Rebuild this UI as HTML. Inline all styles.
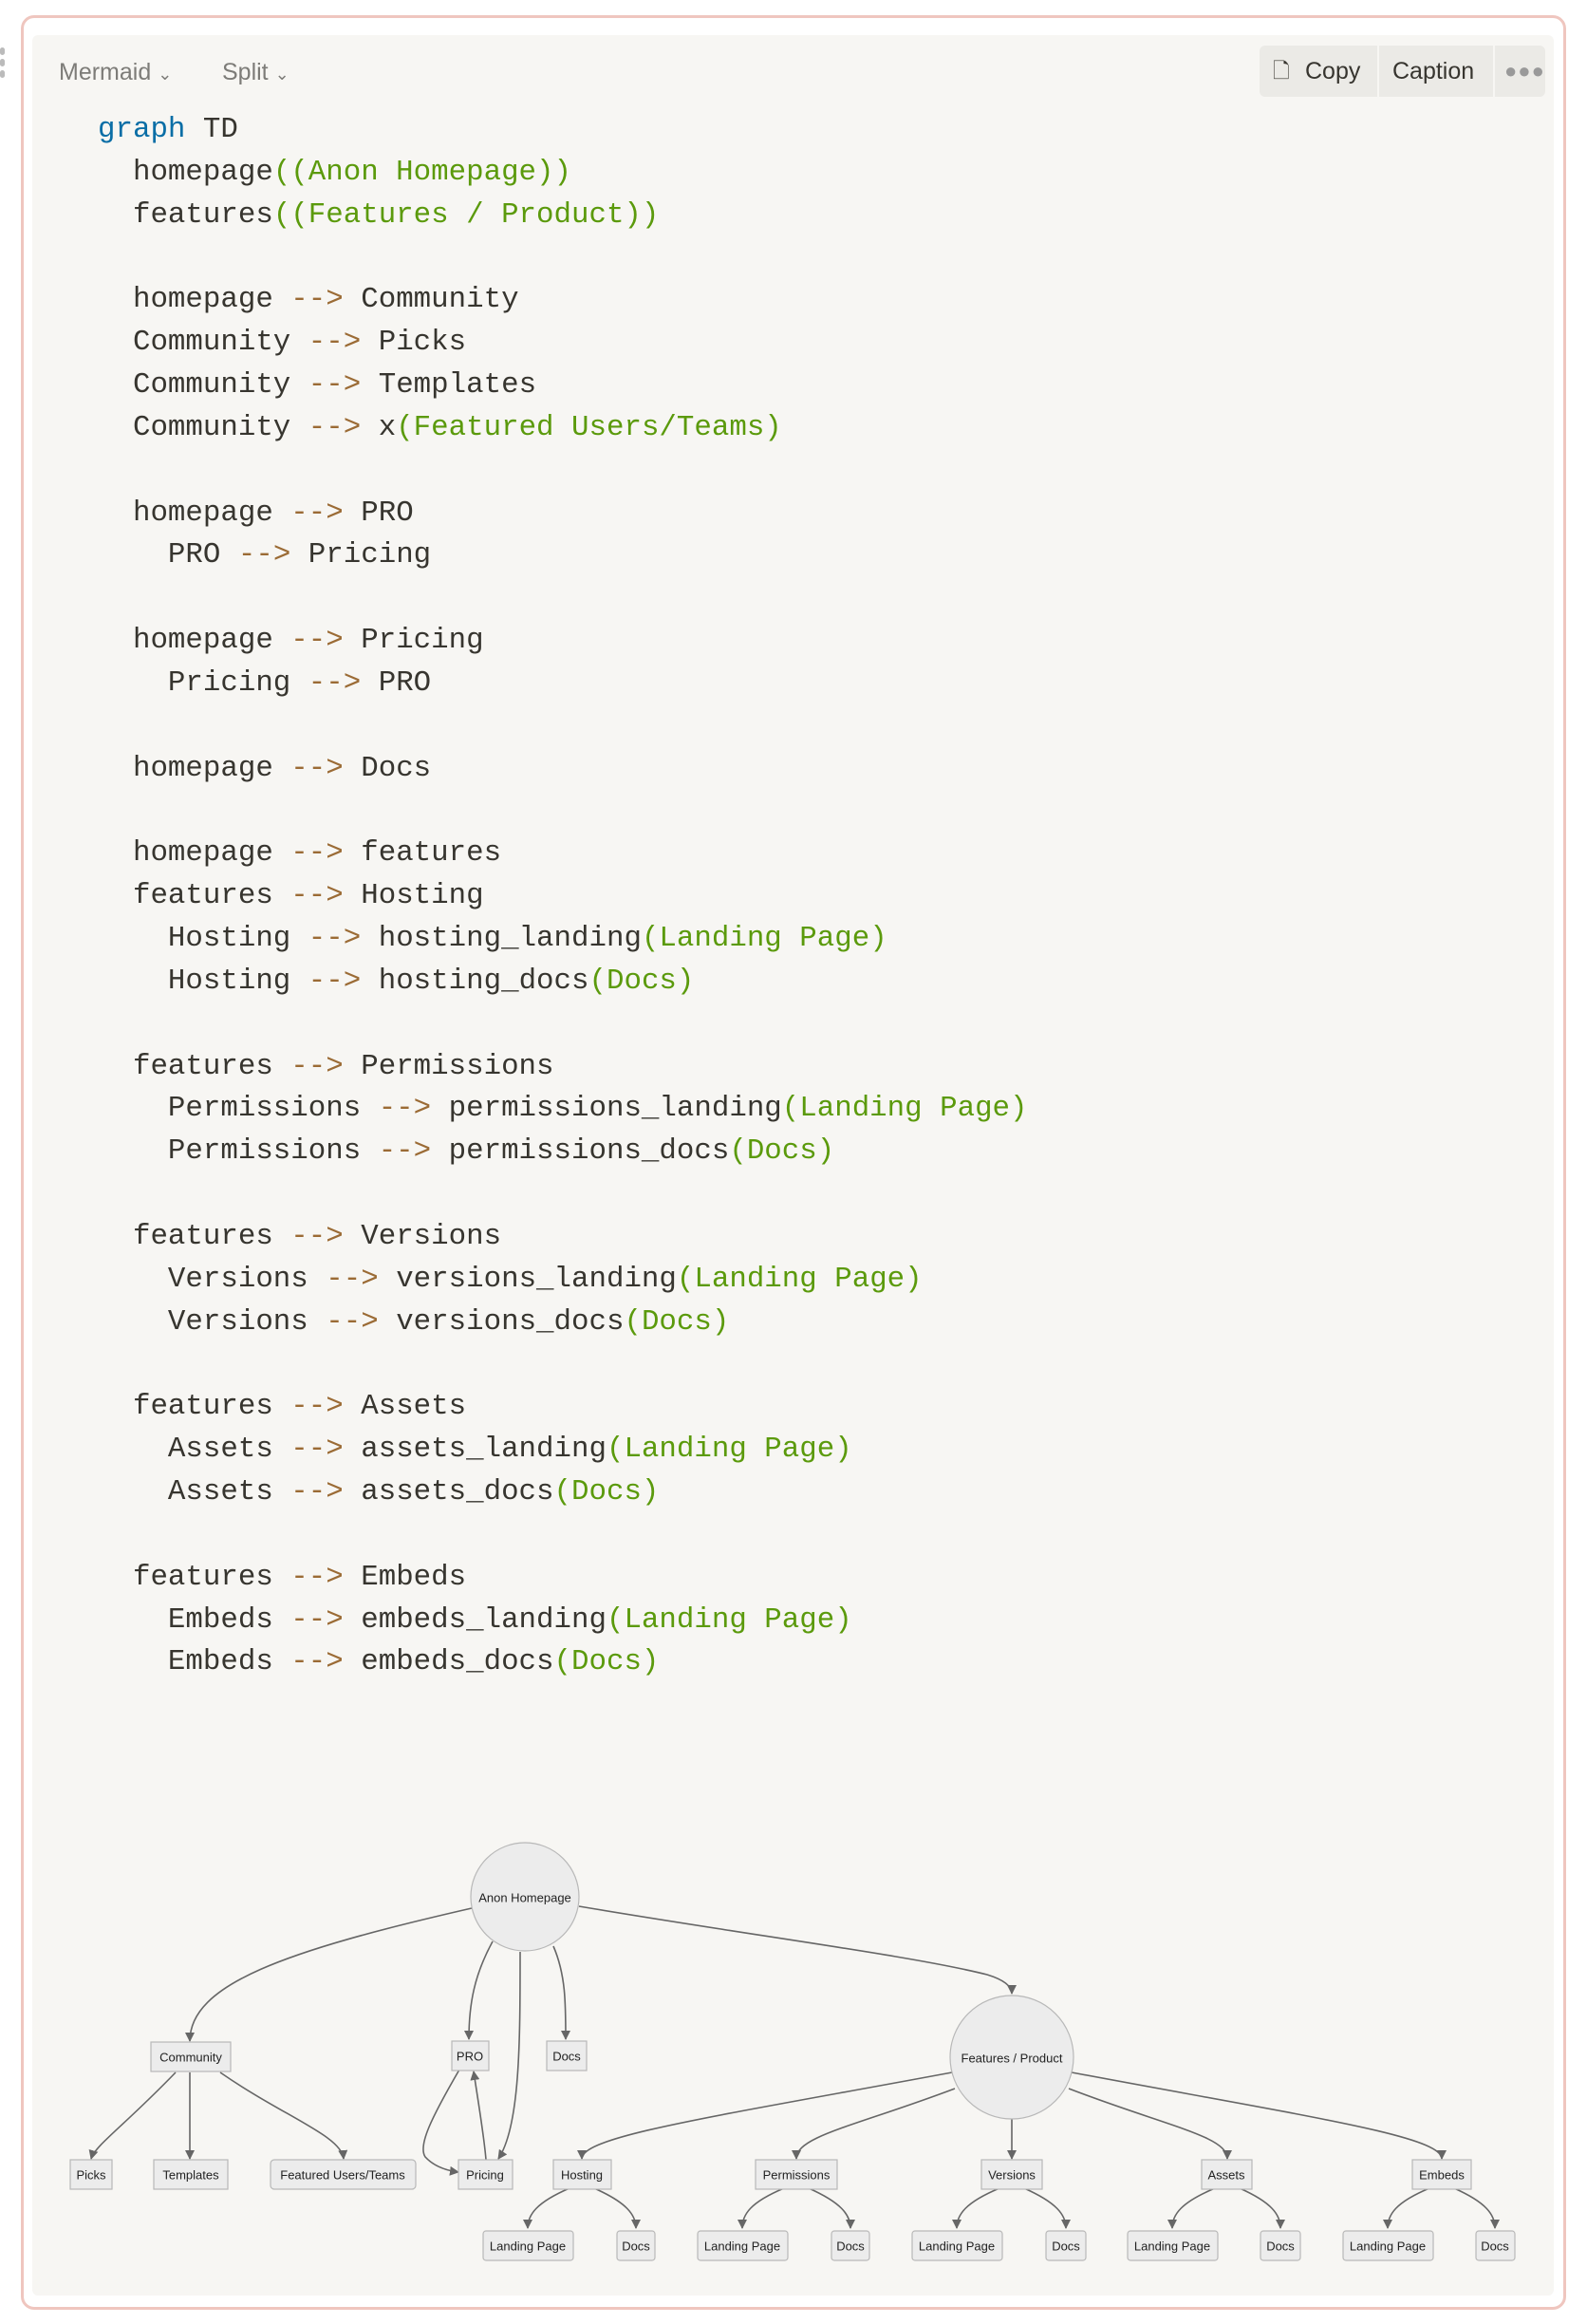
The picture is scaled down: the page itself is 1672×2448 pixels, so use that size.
<!DOCTYPE html>
<html><head><meta charset="utf-8">
<style>
html,body{margin:0;padding:0;background:#fff;}
body{width:1672px;height:2448px;position:relative;overflow:hidden;font-family:"Liberation Sans",sans-serif;}
.frame{position:absolute;left:22px;top:16px;width:1622px;height:2411px;border:3px solid #efc6bf;border-radius:14px;}
.panel{position:absolute;left:34px;top:37px;width:1603px;height:2381px;background:#f7f6f3;border-radius:6px;}
.hdr{position:absolute;top:62px;font-size:25px;color:#7d7c78;}
.btns{position:absolute;left:1327px;top:48px;width:301px;height:54px;background:#ebeae6;border-radius:6px;}
.btns span{position:absolute;top:0;height:54px;line-height:54px;font-size:25px;color:#37352f;}
.div{position:absolute;top:0;width:2px;height:54px;background:#f7f6f3;}
pre{position:absolute;left:103px;top:115px;margin:0;font-family:"Liberation Mono",monospace;font-size:30.8px;line-height:44.85px;color:#37352f;}
.k{color:#0a6ea6}.g{color:#5b9a0c}.a{color:#9b6b35}
.dots{position:absolute;left:0;top:50px;width:6px;}
.dots i{display:block;width:5px;height:8px;border-radius:3px;background:#bbb;margin-bottom:4px;}
svg{position:absolute;left:0;top:0;}
svg text{font-family:"Liberation Sans",sans-serif;font-size:13px;fill:#222;text-anchor:middle;dominant-baseline:central;}
</style></head><body>
<div class="frame"></div>
<div class="panel"></div>
<div class="dots"><i></i><i></i><i></i></div>
<div class="hdr" style="left:62px">Mermaid <span style="font-size:18px">&#8964;</span></div>
<div class="hdr" style="left:234px">Split <span style="font-size:18px">&#8964;</span></div>
<div class="btns">
 <span style="left:14px;font-size:22px">&#128459;</span>
 <span style="left:48px">Copy</span>
 <div class="div" style="left:124px"></div>
 <span style="left:140px">Caption</span>
 <div class="div" style="left:246px"></div>
 <span style="left:258px;color:#999;font-size:22px;letter-spacing:1px">&#9679;&#9679;&#9679;</span>
</div>
<pre><span class="k">graph</span> TD
  homepage<span class="g">((Anon Homepage))</span>
  features<span class="g">((Features / Product))</span>

  homepage <span class="a">--&gt;</span> Community
  Community <span class="a">--&gt;</span> Picks
  Community <span class="a">--&gt;</span> Templates
  Community <span class="a">--&gt;</span> x<span class="g">(Featured Users/Teams)</span>

  homepage <span class="a">--&gt;</span> PRO
    PRO <span class="a">--&gt;</span> Pricing

  homepage <span class="a">--&gt;</span> Pricing
    Pricing <span class="a">--&gt;</span> PRO

  homepage <span class="a">--&gt;</span> Docs

  homepage <span class="a">--&gt;</span> features
  features <span class="a">--&gt;</span> Hosting
    Hosting <span class="a">--&gt;</span> hosting_landing<span class="g">(Landing Page)</span>
    Hosting <span class="a">--&gt;</span> hosting_docs<span class="g">(Docs)</span>

  features <span class="a">--&gt;</span> Permissions
    Permissions <span class="a">--&gt;</span> permissions_landing<span class="g">(Landing Page)</span>
    Permissions <span class="a">--&gt;</span> permissions_docs<span class="g">(Docs)</span>

  features <span class="a">--&gt;</span> Versions
    Versions <span class="a">--&gt;</span> versions_landing<span class="g">(Landing Page)</span>
    Versions <span class="a">--&gt;</span> versions_docs<span class="g">(Docs)</span>

  features <span class="a">--&gt;</span> Assets
    Assets <span class="a">--&gt;</span> assets_landing<span class="g">(Landing Page)</span>
    Assets <span class="a">--&gt;</span> assets_docs<span class="g">(Docs)</span>

  features <span class="a">--&gt;</span> Embeds
    Embeds <span class="a">--&gt;</span> embeds_landing<span class="g">(Landing Page)</span>
    Embeds <span class="a">--&gt;</span> embeds_docs<span class="g">(Docs)</span></pre>

<svg width="1672" height="2448" viewBox="0 0 1672 2448">
<defs><marker id="ar" markerWidth="10" markerHeight="10" refX="9" refY="5" orient="auto" markerUnits="userSpaceOnUse"><path d="M0,0 L10,5 L0,10 z" fill="#666"/></marker></defs>
<g fill="none" stroke="#666" stroke-width="1.6" marker-end="url(#ar)">
<path d="M497,2010 C300,2055 200,2090 200,2150"/>
<path d="M519,2045 C500,2080 494,2110 494,2148"/>
<path d="M548,2056 C548,2150 548,2240 525,2274"/>
<path d="M583,2050 C596,2080 596,2110 596,2148"/>
<path d="M610,2008 C800,2040 960,2060 1040,2080 Q1066,2088 1066,2100"/>
<path d="M484,2180 C455,2230 440,2260 448,2272 Q460,2285 483,2288"/>
<path d="M512,2275 C510,2250 504,2215 499,2182"/>
<path d="M185,2183 C130,2240 100,2260 96,2274"/>
<path d="M200,2183 L200,2274"/>
<path d="M232,2183 C300,2230 360,2250 362,2274"/>
<path d="M1003,2183 C750,2230 613,2250 613,2274"/>
<path d="M1006,2200 C900,2240 839,2250 839,2274"/>
<path d="M1066,2232 L1066,2274"/>
<path d="M1126,2200 C1230,2240 1293,2250 1293,2274"/>
<path d="M1129,2183 C1380,2230 1519,2250 1519,2274"/>
<path d="M600,2305 C565,2320 556,2333 556,2347"/>
<path d="M626,2305 C660,2320 670,2333 670,2347"/>
<path d="M826,2305 C790,2320 782,2333 782,2347"/>
<path d="M852,2305 C886,2320 896,2333 896,2347"/>
<path d="M1053,2305 C1017,2320 1008,2333 1008,2347"/>
<path d="M1079,2305 C1113,2320 1123,2333 1123,2347"/>
<path d="M1280,2305 C1244,2320 1235,2333 1235,2347"/>
<path d="M1306,2305 C1340,2320 1349,2333 1349,2347"/>
<path d="M1506,2305 C1470,2320 1462,2333 1462,2347"/>
<path d="M1532,2305 C1566,2320 1575,2333 1575,2347"/>
</g>
<g fill="#ececec" stroke="#b8b8b8" stroke-width="1.2">
<circle cx="553" cy="1998" r="57"/>
<circle cx="1066" cy="2167" r="65"/>
<rect x="159" y="2151" width="84" height="31"/>
<rect x="476" y="2150" width="39" height="31"/>
<rect x="576" y="2150" width="42" height="31"/>
<rect x="74" y="2275" width="44" height="31"/>
<rect x="162" y="2275" width="78" height="31"/>
<rect x="285" y="2275" width="153" height="31" rx="4"/>
<rect x="483" y="2275" width="57" height="31"/>
<rect x="583" y="2275" width="61" height="31"/>
<rect x="796" y="2275" width="86" height="31"/>
<rect x="1034" y="2275" width="64" height="31"/>
<rect x="1266" y="2275" width="53" height="31"/>
<rect x="1488" y="2275" width="62" height="31"/>
<rect x="509" y="2350" width="95" height="31" rx="3"/>
<rect x="650" y="2350" width="40" height="31" rx="3"/>
<rect x="735" y="2350" width="95" height="31" rx="3"/>
<rect x="876" y="2350" width="40" height="31" rx="3"/>
<rect x="961" y="2350" width="95" height="31" rx="3"/>
<rect x="1102" y="2350" width="42" height="31" rx="3"/>
<rect x="1188" y="2350" width="95" height="31" rx="3"/>
<rect x="1328" y="2350" width="42" height="31" rx="3"/>
<rect x="1415" y="2350" width="95" height="31" rx="3"/>
<rect x="1555" y="2350" width="41" height="31" rx="3"/>
</g>
<text x="553" y="1999">Anon Homepage</text>
<text x="1066" y="2168">Features / Product</text>
<text x="201" y="2167">Community</text>
<text x="495" y="2166">PRO</text>
<text x="597" y="2166">Docs</text>
<text x="96" y="2291">Picks</text>
<text x="201" y="2291">Templates</text>
<text x="361" y="2291">Featured Users/Teams</text>
<text x="511" y="2291">Pricing</text>
<text x="613" y="2291">Hosting</text>
<text x="839" y="2291">Permissions</text>
<text x="1066" y="2291">Versions</text>
<text x="1292" y="2291">Assets</text>
<text x="1519" y="2291">Embeds</text>
<text x="556" y="2366">Landing Page</text>
<text x="670" y="2366">Docs</text>
<text x="782" y="2366">Landing Page</text>
<text x="896" y="2366">Docs</text>
<text x="1008" y="2366">Landing Page</text>
<text x="1123" y="2366">Docs</text>
<text x="1235" y="2366">Landing Page</text>
<text x="1349" y="2366">Docs</text>
<text x="1462" y="2366">Landing Page</text>
<text x="1575" y="2366">Docs</text>
</svg>
</body></html>
